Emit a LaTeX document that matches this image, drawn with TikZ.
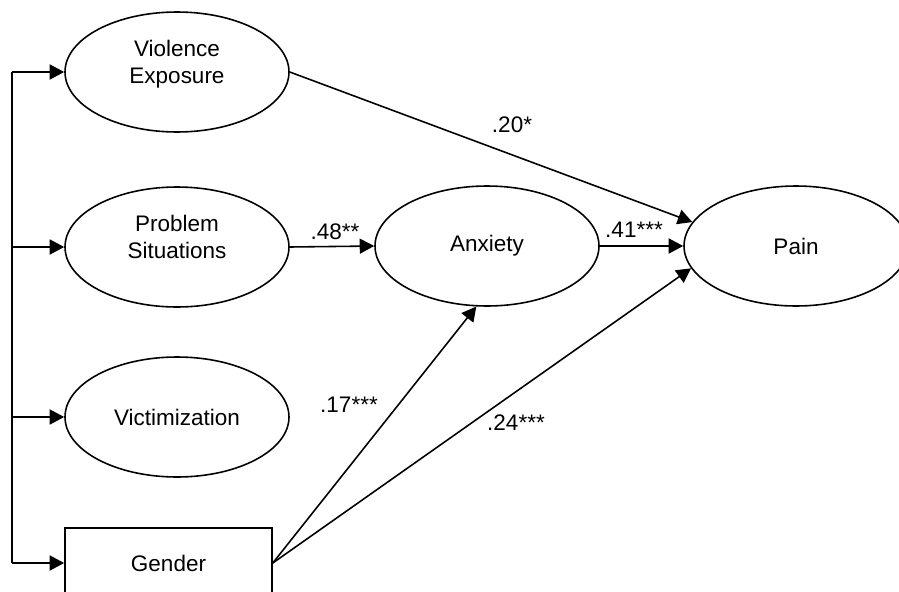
\documentclass[tikz,border=0pt]{standalone}
\usepackage{fontspec}
\setmainfont{Liberation Sans}
\usetikzlibrary{arrows.meta,shapes.geometric}

\begin{document}
\begin{tikzpicture}[
        line width=0.9pt,
        every node/.style={font=\fontsize{12.8}{15.3}\selectfont},
        latent/.style={draw, ellipse, align=center, inner sep=0pt,
            minimum width=4.48cm, minimum height=2.4cm},
        twoline/.style={text depth=0.4cm},
        observed/.style={draw, rectangle, inner sep=0pt,
            minimum width=4.14cm, minimum height=1.4cm},
        path/.style={-{Triangle[length=2.9mm,width=3mm]}}
    ]
        \useasboundingbox (0, 0) rectangle (17.98, 11.82);

        % Draw the predictors
        \node[latent, twoline] (viol) at (3.54, 10.38) {Violence\\Exposure};
        \node[latent, twoline] (prob) at (3.54, 6.88) {Problem\\Situations};
        \node[latent] (vict) at (3.54, 3.48) {Victimization};
        \node[observed] (gend) at (3.37, 0.56) {Gender};

        % Draw mediator and outcome
        \node[latent] (anx) at (9.74, 6.9) {Anxiety};
        \node[latent] (pain) at (15.92, 6.9) {Pain};

        % Common line on the left
        \coordinate (top) at (0.24, 10.38);
        \coordinate (bot) at (0.24, 0.56);
        \draw (top) -- (bot);
        \draw[path] (top) -- (viol.west);
        \draw[path] (0.24, 6.88) -- (prob.west);
        \draw[path] (0.24, 3.48) -- (vict.west);
        \draw[path] (bot) -- (gend.west);

        % Paths with coefficients
        \draw[path] (viol.east) -- (pain.167);
        \draw[path] (prob.east) -- (anx.west);
        \draw[path] (anx.east) -- (pain.west);
        \draw[path] (gend.east) -- (anx.260);
        \draw[path] (gend.east) -- (pain.192);

        % Labels for the coefficients
        \node (c1) at (10.24, 9.32) {.20*};
        \node (c2) at (6.7, 7.18) {.48**};
        \node (c3) at (12.68, 7.22) {.41***};
        \node (c4) at (6.98, 3.72) {.17***};
        \node (c5) at (10.32, 3.36) {.24***};
    \end{tikzpicture}
\end{document}
